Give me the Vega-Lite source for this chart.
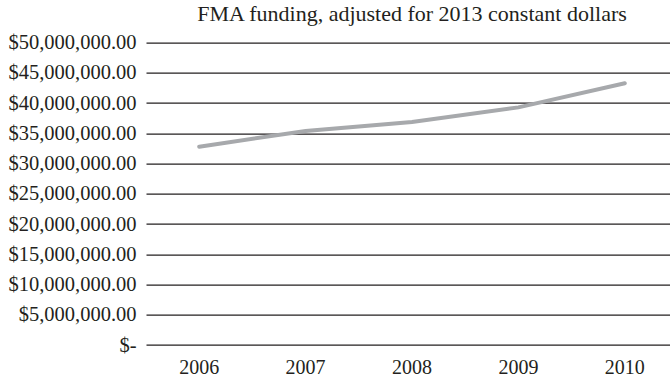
{
  "$schema": "https://vega.github.io/schema/vega-lite/v6.json",
  "autosize": {"type": "none"},
  "width": 532,
  "height": 302.3,
  "padding": {"left": 146, "top": 42.7, "right": 0, "bottom": 34},
  "background": "white",
  "title": {
    "text": "FMA funding, adjusted for 2013 constant dollars",
    "font": "Liberation Serif",
    "fontSize": 22,
    "fontWeight": "normal",
    "color": "#231f20",
    "anchor": "middle",
    "offset": 7
  },
  "data": {
    "values": [
      {"year": "2006", "funding": 32800000},
      {"year": "2007", "funding": 35400000},
      {"year": "2008", "funding": 36900000},
      {"year": "2009", "funding": 39300000},
      {"year": "2010", "funding": 43300000}
    ]
  },
  "mark": {"type": "line", "color": "#a7a9ac", "strokeWidth": 4, "strokeCap": "round"},
  "encoding": {
    "x": {
      "field": "year",
      "type": "ordinal",
      "scale": {"type": "band", "paddingInner": 0, "paddingOuter": 0},
      "axis": {
        "title": null,
        "domain": false,
        "ticks": false,
        "grid": false,
        "labelAngle": 0,
        "labelFont": "Liberation Serif",
        "labelFontSize": 20,
        "labelColor": "#231f20",
        "labelPadding": 12
      }
    },
    "y": {
      "field": "funding",
      "type": "quantitative",
      "scale": {"domain": [0, 50000000]},
      "axis": {
        "title": null,
        "domain": false,
        "ticks": false,
        "values": [0, 5000000, 10000000, 15000000, 20000000, 25000000, 30000000, 35000000, 40000000, 45000000, 50000000],
        "labelExpr": "datum.value == 0 ? '$-' : format(datum.value, '$,.2f')",
        "labelFont": "Liberation Serif",
        "labelFontSize": 20.5,
        "labelColor": "#231f20",
        "labelPadding": 10,
        "gridColor": "#231f20",
        "gridWidth": 1.3,
        "gridOpacity": 1
      }
    }
  },
  "config": {"view": {"stroke": null}}
}
